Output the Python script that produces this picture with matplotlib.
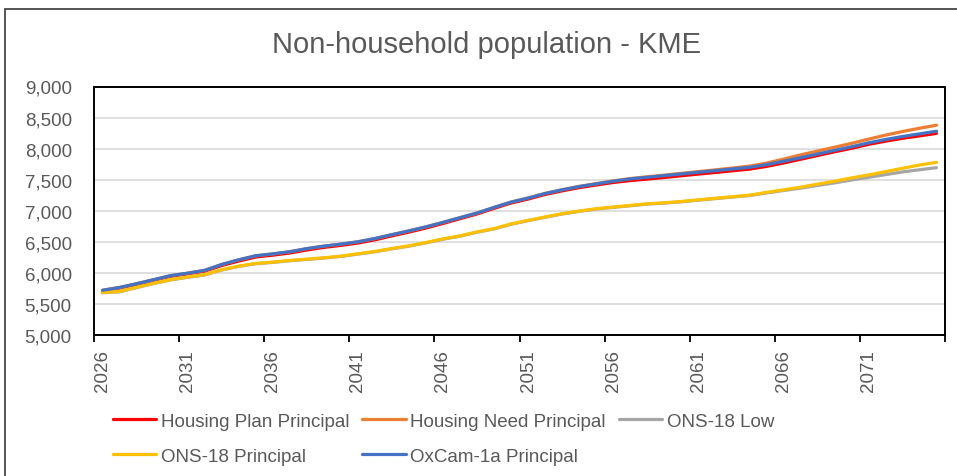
import numpy as np
import matplotlib
matplotlib.use('Agg')
import matplotlib.pyplot as plt
from matplotlib.patches import Rectangle
from matplotlib.ticker import FuncFormatter

# years on the category axis
years = list(range(2026, 2076))

# OxCam-1a Principal (blue)
oxcam = [5720, 5765, 5825, 5890, 5955, 5995, 6040, 6135, 6210, 6275,
         6305, 6340, 6390, 6430, 6462, 6500, 6552, 6615, 6675, 6740,
         6812, 6888, 6963, 7053, 7139, 7203, 7277, 7336, 7389, 7432,
         7475, 7512, 7539, 7565, 7592, 7619, 7645, 7672, 7699, 7741,
         7795, 7853, 7912, 7971, 8029, 8093, 8147, 8195, 8237, 8280]

# Housing Plan Principal (red)
housing_plan = [5712, 5757, 5815, 5880, 5945, 5985, 6028, 6118, 6190, 6255,
                6285, 6320, 6368, 6410, 6442, 6480, 6532, 6596, 6656, 6722,
                6795, 6872, 6948, 7038, 7124, 7188, 7262, 7320, 7372, 7414,
                7455, 7485, 7510, 7536, 7563, 7590, 7616, 7643, 7670, 7713,
                7768, 7828, 7888, 7948, 8005, 8068, 8120, 8166, 8205, 8245]

# Housing Need Principal (orange)
housing_need = [5720, 5765, 5825, 5890, 5955, 5995, 6040, 6135, 6210, 6275,
                6305, 6340, 6390, 6430, 6462, 6500, 6552, 6615, 6675, 6740,
                6812, 6888, 6963, 7053, 7139, 7205, 7279, 7338, 7392, 7436,
                7480, 7518, 7546, 7573, 7602, 7630, 7658, 7687, 7718, 7766,
                7830, 7898, 7960, 8022, 8084, 8152, 8217, 8275, 8328, 8376]

# ONS-18 Principal (yellow)
ons_principal = [5685, 5700, 5768, 5832, 5891, 5933, 5971, 6051, 6109, 6152,
                 6173, 6200, 6221, 6243, 6269, 6307, 6344, 6392, 6435, 6488,
                 6547, 6595, 6659, 6712, 6787, 6845, 6899, 6952, 6995, 7032,
                 7059, 7085, 7112, 7128, 7149, 7175, 7200, 7225, 7250, 7295,
                 7336, 7379, 7427, 7475, 7528, 7576, 7629, 7683, 7736, 7779]

# ONS-18 Low (grey)
ons_low = [5680, 5695, 5763, 5827, 5886, 5928, 5966, 6046, 6104, 6147,
           6168, 6195, 6216, 6238, 6264, 6302, 6339, 6387, 6430, 6483,
           6542, 6590, 6654, 6707, 6782, 6840, 6894, 6947, 6990, 7027,
           7054, 7080, 7107, 7123, 7144, 7170, 7195, 7220, 7244, 7286,
           7325, 7363, 7407, 7448, 7495, 7538, 7581, 7625, 7660, 7693]

series_names = ['Housing Plan Principal', 'Housing Need Principal', 'ONS-18 Low',
                'ONS-18 Principal', 'OxCam-1a Principal']
series_colors = ['#FF0000', '#ED7D31', '#A5A5A5', '#FFC000', '#4472C4']

plt.rcParams['font.family'] = ['Liberation Sans', 'DejaVu Sans']
txt = '#595959'

fig = plt.figure(figsize=(9.57, 4.77), dpi=100)
W, H = 957, 477
ax = fig.add_axes([94 / W, 1 - 336 / H, (945 - 94) / W, (336 - 87.5) / H])

# outer chart border
fig.patches.append(Rectangle((5 / W, -0.1), 1.2, 1 - 10 / H + 0.1,
                             transform=fig.transFigure, fill=False,
                             edgecolor='#3a3a3a', lw=1.2))

lines = []
for data, name, col in zip([housing_plan, housing_need, ons_low, ons_principal, oxcam],
                           series_names, series_colors):
    ln, = ax.plot(years, data, color=col, lw=2.3, label=name,
                  solid_capstyle='round', solid_joinstyle='round')
    lines.append(ln)

ax.set_xlim(2025.5, 2075.5)
ax.set_ylim(5000, 9000)
ax.set_yticks(np.arange(5000, 9001, 500))
ax.yaxis.set_major_formatter(FuncFormatter(lambda v, p: '{:,.0f}'.format(v)))
ax.grid(axis='y', color='#D9D9D9', lw=1.2)
ax.set_axisbelow(True)

ax.set_xticks(years[::5])
ax.set_xticklabels([str(y) for y in years[::5]], rotation=90)
ax.set_xticks(np.arange(2025.5, 2076, 5), minor=True)
ax.tick_params(axis='x', which='major', length=0, pad=10, labelsize=13.5, labelcolor=txt)
ax.tick_params(axis='x', which='minor', length=5, width=1.3, color='black', direction='out')
ax.tick_params(axis='y', length=0, pad=16, labelsize=13.5, labelcolor=txt)
for s in ax.spines.values():
    s.set_color('black')
    s.set_linewidth(1.4)

fig.text(487 / W, 1 - 45 / H, 'Non-household population - KME', ha='center', va='center',
         fontsize=21, color=txt)

# legend: matplotlib fills columns first, so reorder to get Excel's row layout
order = [0, 3, 1, 4, 2]
leg = fig.legend([lines[i] for i in order], [series_names[i] for i in order],
                 loc='center left', bbox_to_anchor=(113 / W, 1 - 439.5 / H), ncol=3,
                 frameon=False, fontsize=13.5, handlelength=2.3, handletextpad=0.25,
                 columnspacing=0.7, labelspacing=0.95, borderpad=0, borderaxespad=0)
for t in leg.get_texts():
    t.set_color(txt)

fig.savefig('out.png', dpi=100)
